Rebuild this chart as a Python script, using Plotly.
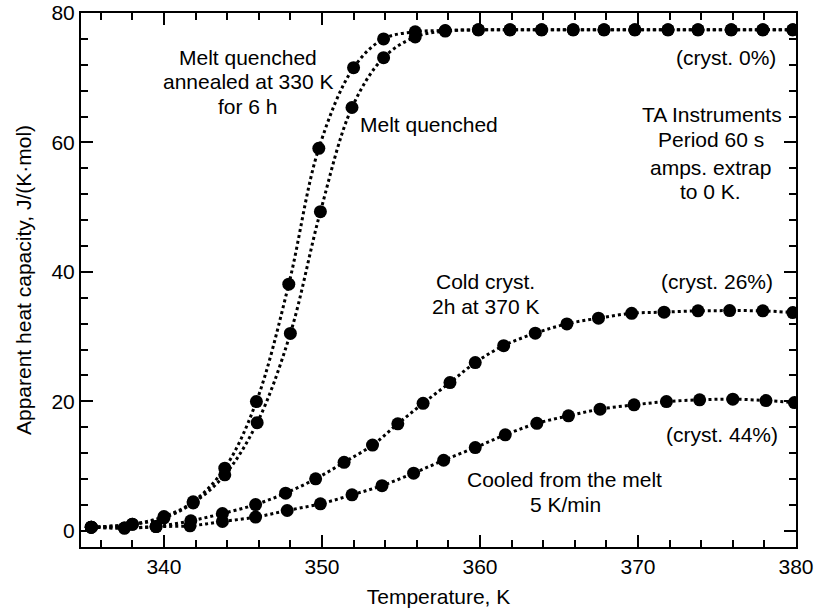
import plotly.graph_objects as go

# ---- data ----
T_annealed = [335.4, 338.0, 340.0, 341.85, 343.85, 345.85, 347.9, 349.8, 352.0, 353.9,
              355.9, 357.8, 359.9, 361.9, 363.9, 365.9, 367.85, 369.8, 371.9, 373.8,
              375.9, 377.9, 379.8]
Cp_annealed = [0.57, 1.03, 2.2, 4.48, 9.68, 19.97, 38.1, 59.1, 71.55, 76.0,
               77.1, 77.3, 77.4, 77.4, 77.4, 77.4, 77.4, 77.4, 77.4, 77.4,
               77.4, 77.4, 77.4]

T_quenched = [335.4, 338.0, 340.0, 341.85, 343.85, 345.9, 348.0, 349.9, 351.9, 353.9,
              355.9, 357.8, 359.9, 361.9, 363.9, 365.9, 367.85, 369.8, 371.9, 373.8,
              375.9, 377.9, 379.8]
Cp_quenched = [0.57, 1.0, 2.0, 4.3, 8.65, 16.7, 30.5, 49.3, 65.4, 73.1,
               76.3, 77.2, 77.4, 77.4, 77.4, 77.4, 77.4, 77.4, 77.4, 77.4,
               77.4, 77.4, 77.4]

T_cold = [335.4, 337.5, 339.5, 341.7, 343.7, 345.8, 347.7, 349.6, 351.4, 353.2,
          354.8, 356.4, 358.1, 359.7, 361.5, 363.5, 365.5, 367.5, 369.6, 371.65,
          373.8, 375.8, 377.9, 379.8]
Cp_cold = [0.57, 0.42, 0.66, 1.54, 2.67, 4.06, 5.82, 8.03, 10.58, 13.24,
           16.53, 19.7, 22.9, 25.99, 28.6, 30.53, 31.97, 32.85, 33.6, 33.78,
           33.98, 34.02, 33.98, 33.71]

T_cooled = [335.4, 337.5, 339.5, 341.65, 343.7, 345.8, 347.8, 349.9, 351.9, 353.8,
            355.8, 357.7, 359.7, 361.6, 363.6, 365.6, 367.6, 369.75, 371.8, 373.9,
            376.0, 378.1, 379.9]
Cp_cooled = [0.57, 0.42, 0.66, 0.77, 1.44, 2.12, 3.14, 4.17, 5.56, 6.98,
             8.91, 10.9, 12.86, 14.83, 16.6, 17.76, 18.8, 19.46, 19.97, 20.23,
             20.34, 20.12, 19.82]

series = [
    ("Melt quenched, annealed at 330 K for 6 h", T_annealed, Cp_annealed),
    ("Melt quenched", T_quenched, Cp_quenched),
    ("Cold cryst. 2h at 370 K", T_cold, Cp_cold),
    ("Cooled from the melt 5 K/min", T_cooled, Cp_cooled),
]

x_range = [334.75, 380]
y_range = [-2.5, 80]
x_ticks = [340, 350, 360, 370, 380]
y_ticks = [0, 20, 40, 60, 80]

# annotations: (text, x, y, xanchor)
labels = [
    ("Melt quenched", 345.32, 73.2, "center"),
    ("annealed at 330 K", 345.32, 69.35, "center"),
    ("for 6 h", 345.32, 65.5, "center"),
    ("Melt quenched", 352.28, 62.7, "left"),
    ("(cryst. 0%)", 378.86, 73.05, "right"),
    ("TA Instruments", 374.66, 64.25, "center"),
    ("Period 60 s", 374.6, 60.4, "center"),
    ("amps. extrap", 374.6, 56.2, "center"),
    ("to 0 K.", 374.6, 52.35, "center"),
    ("(cryst. 26%)", 378.67, 38.46, "right"),
    ("Cold cryst.", 360.38, 38.46, "center"),
    ("2h at 370 K", 360.38, 34.6, "center"),
    ("(cryst. 44%)", 378.99, 14.83, "right"),
    ("Cooled from the melt", 365.32, 7.88, "center"),
    ("5 K/min", 365.44, 4.02, "center"),
]

FONT = "Liberation Sans, Arial, Helvetica, sans-serif"

fig = go.Figure()
for name, xs, ys in series:
    fig.add_trace(go.Scatter(
        x=xs, y=ys, mode="lines+markers", name=name,
        line=dict(color="black", width=3, dash="dot", shape="spline", smoothing=1.0),
        marker=dict(color="black", size=13, symbol="circle"),
        showlegend=False,
    ))

for text, x, y, xa in labels:
    fig.add_annotation(x=x, y=y, text=text, xanchor=xa, yanchor="middle",
                       showarrow=False, font=dict(size=21, color="black", family=FONT))

fig.update_layout(
    width=814, height=612,
    margin=dict(l=81, r=18, t=13, b=65),
    paper_bgcolor="white", plot_bgcolor="white",
    font=dict(family=FONT, size=21, color="black"),
)
fig.update_xaxes(
    range=x_range, tickvals=x_ticks, ticks="inside", ticklen=12, tickwidth=1.5,
    tickcolor="black", showline=True, linewidth=2, linecolor="black", mirror="ticks",
    showgrid=False, zeroline=False, automargin=False,
    minor=dict(dtick=2, tick0=340, ticks="inside", ticklen=7, tickwidth=1.5,
               tickcolor="black", showgrid=False),
    title=dict(text="Temperature, K", font=dict(size=21), standoff=12),
    tickfont=dict(size=21),
)
fig.update_yaxes(
    range=y_range, tickvals=y_ticks, ticks="inside", ticklen=12, tickwidth=1.5,
    tickcolor="black", showline=True, linewidth=2, linecolor="black", mirror="ticks",
    showgrid=False, zeroline=False, automargin=False,
    minor=dict(dtick=4, tick0=0, ticks="inside", ticklen=7, tickwidth=1.5,
               tickcolor="black", showgrid=False),
    title=dict(text="Apparent heat capacity, J/(K·mol)", font=dict(size=21), standoff=14),
    tickfont=dict(size=21),
)

fig.write_html("out.html")
